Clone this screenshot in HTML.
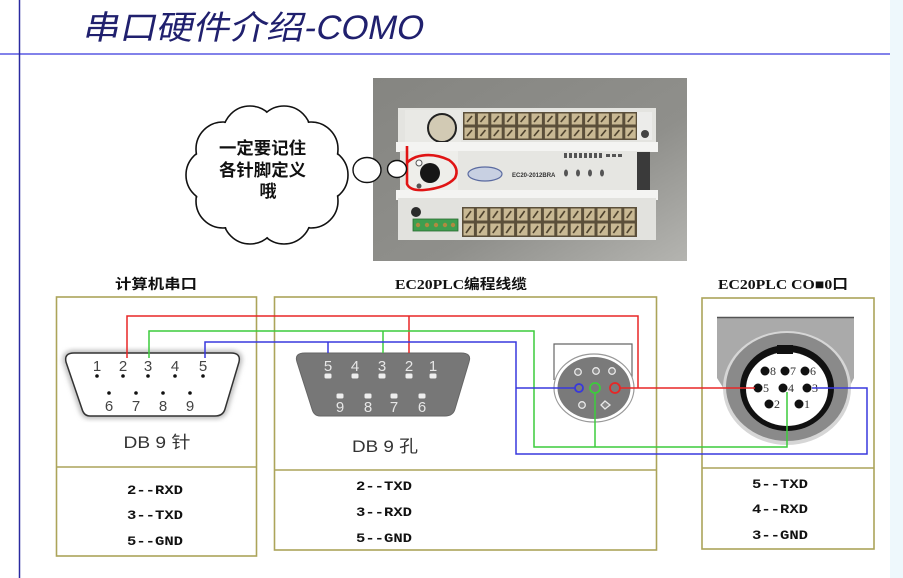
<!DOCTYPE html>
<html>
<head>
<meta charset="utf-8">
<style>
html,body{margin:0;padding:0;background:#fff;}
body{width:903px;height:578px;overflow:hidden;position:relative;}
svg{position:absolute;left:0;top:0;}
.cj{font-family:"Liberation Sans","Noto Sans CJK SC",sans-serif;}
.mono{font-family:"Liberation Mono","Noto Sans CJK SC",monospace;font-weight:bold;font-size:13px;fill:#111;}
</style>
</head>
<body>
<svg width="903" height="578" viewBox="0 0 903 578" xmlns="http://www.w3.org/2000/svg">
<defs>
  <linearGradient id="bg" x1="0" y1="0" x2="1" y2="1">
    <stop offset="0" stop-color="#858581"/>
    <stop offset="0.6" stop-color="#8f8f8b"/>
    <stop offset="1" stop-color="#b4b4b0"/>
  </linearGradient>
  <pattern id="term" x="463" y="112" width="13.4" height="14" patternUnits="userSpaceOnUse">
    <rect x="0" y="0" width="13.4" height="14" fill="#5b4f3a"/>
    <rect x="1.5" y="1.5" width="10.4" height="11" fill="#c9b994"/>
    <path d="M4,10 L9,4" stroke="#4a3e2a" stroke-width="1.6"/>
  </pattern>
  <pattern id="term2" x="462" y="207" width="13.4" height="15" patternUnits="userSpaceOnUse">
    <rect x="0" y="0" width="13.4" height="15" fill="#5b4f3a"/>
    <rect x="1.5" y="1.5" width="10.4" height="12" fill="#c9b994"/>
    <path d="M4,11 L9,4" stroke="#4a3e2a" stroke-width="1.6"/>
  </pattern>
  <filter id="blur" x="-10%" y="-10%" width="120%" height="120%">
    <feGaussianBlur stdDeviation="2.5"/>
  </filter>
</defs>

<!-- page frame -->
<rect x="890" y="0" width="13" height="578" fill="#eef8fc"/>
<line x1="0" y1="54" x2="890" y2="54" stroke="#8282ea" stroke-width="2"/>
<line x1="19.5" y1="0" x2="19.5" y2="578" stroke="#2a2aa0" stroke-width="1.5"/>

<!-- title -->
<g transform="translate(82,39) skewX(-12)">
  <text x="0" y="0" class="cj" font-size="33" fill="#20206e" textLength="221" lengthAdjust="spacingAndGlyphs">串口硬件介绍</text>
  <text x="221" y="0" font-family="Liberation Sans, sans-serif" font-size="34" fill="#20206e" textLength="119" lengthAdjust="spacingAndGlyphs">-COMO</text>
</g>

<!-- photo -->
<rect x="373" y="78" width="314" height="183" fill="url(#bg)"/>
<!-- PLC body -->
<rect x="398" y="108" width="258" height="36" fill="#e4e4e0"/>
<rect x="463" y="112" width="174" height="28" fill="url(#term)"/>
<rect x="405" y="110" width="56" height="34" fill="#e9e9e5"/>
<circle cx="442" cy="128" r="14" fill="#d2cab4" stroke="#222" stroke-width="2"/>
<rect x="637" y="112" width="15" height="28" fill="#ececea"/>
<circle cx="645" cy="134" r="4" fill="#444"/>
<rect x="396" y="142" width="262" height="10" fill="#f4f4f2"/>
<rect x="400" y="151" width="250" height="41" fill="#e6e6e2"/>
<rect x="405" y="151" width="53" height="41" fill="#eeeeea"/>
<rect x="637" y="152" width="13" height="38" fill="#3a3a3a"/>
<circle cx="430" cy="173" r="10" fill="#161616"/>
<circle cx="419" cy="163" r="3" fill="#fafafa" stroke="#555" stroke-width="1"/>
<circle cx="419" cy="186" r="2.5" fill="#555"/>
<ellipse cx="485" cy="174" rx="17" ry="7" fill="#c8d0e2" stroke="#5a6aa0" stroke-width="1.2"/>
<text x="512" y="177" font-family="Liberation Sans, sans-serif" font-size="6" font-weight="bold" fill="#333">EC20-2012BRA</text>
<g fill="#555">
  <rect x="564" y="153" width="3" height="5"/><rect x="569" y="153" width="3" height="5"/>
  <rect x="574" y="153" width="3" height="5"/><rect x="579" y="153" width="3" height="5"/>
  <rect x="584" y="153" width="3" height="5"/><rect x="589" y="153" width="3" height="5"/>
  <rect x="594" y="153" width="3" height="5"/><rect x="599" y="153" width="3" height="5"/>
  <rect x="606" y="154" width="4" height="3"/><rect x="612" y="154" width="4" height="3"/>
  <rect x="618" y="154" width="4" height="3"/>
  <ellipse cx="566" cy="173" rx="2" ry="3.5"/><ellipse cx="578" cy="173" rx="2" ry="3.5"/>
  <ellipse cx="590" cy="173" rx="2" ry="3.5"/><ellipse cx="602" cy="173" rx="2" ry="3.5"/>
</g>
<rect x="396" y="190" width="262" height="10" fill="#f4f4f2"/>
<rect x="398" y="198" width="258" height="42" fill="#e2e2de"/>
<rect x="462" y="207" width="175" height="30" fill="url(#term2)"/>
<circle cx="416" cy="212" r="5" fill="#2a2a2a"/>
<rect x="413" y="219" width="45" height="12" fill="#3f9e4f" stroke="#2a6a30" stroke-width="0.8"/>
<g fill="#b08a40"><circle cx="418" cy="225" r="2.2"/><circle cx="427" cy="225" r="2.2"/><circle cx="436" cy="225" r="2.2"/><circle cx="445" cy="225" r="2.2"/><circle cx="453" cy="225" r="2.2"/></g>
<path d="M407,146 L407,184 Q410,191 424,190 Q446,188 455,178 Q460,168 449,160 Q432,152 416,157 Q409,160 407,163" fill="none" stroke="#e01414" stroke-width="2.6"/>

<!-- cloud -->
<g stroke="#111" stroke-width="1.6" fill="#fff">
  <circle cx="321" cy="175" r="27"/>
  <circle cx="311" cy="201" r="27"/>
  <circle cx="284" cy="217" r="27"/>
  <circle cx="250" cy="217" r="27"/>
  <circle cx="223" cy="201" r="27"/>
  <circle cx="213" cy="175" r="27"/>
  <circle cx="223" cy="149" r="27"/>
  <circle cx="250" cy="133" r="27"/>
  <circle cx="284" cy="133" r="27"/>
  <circle cx="311" cy="149" r="27"/>
</g>
<g fill="#fff">
  <circle cx="321" cy="175" r="26"/>
  <circle cx="311" cy="201" r="26"/>
  <circle cx="284" cy="217" r="26"/>
  <circle cx="250" cy="217" r="26"/>
  <circle cx="223" cy="201" r="26"/>
  <circle cx="213" cy="175" r="26"/>
  <circle cx="223" cy="149" r="26"/>
  <circle cx="250" cy="133" r="26"/>
  <circle cx="284" cy="133" r="26"/>
  <circle cx="311" cy="149" r="26"/>
  <ellipse cx="267" cy="175" rx="62" ry="52"/>
</g>
<g class="cj" font-size="17" font-weight="bold" fill="#111">
  <text x="219" y="154" textLength="87" lengthAdjust="spacingAndGlyphs">一定要记住</text>
  <text x="219" y="176" textLength="87" lengthAdjust="spacingAndGlyphs">各针脚定义</text>
  <text x="268" y="197" text-anchor="middle">哦</text>
</g>
<ellipse cx="367" cy="170" rx="14" ry="12.5" fill="#fff" stroke="#111" stroke-width="1.4"/>
<ellipse cx="397" cy="169" rx="9.5" ry="8.5" fill="#fff" stroke="#111" stroke-width="1.4"/>

<!-- section titles -->
<g class="cj" font-weight="bold" font-size="14" fill="#111">
  <text x="115" y="289" textLength="82" lengthAdjust="spacingAndGlyphs">计算机串口</text>
  <text x="395" y="289" textLength="132" lengthAdjust="spacingAndGlyphs" font-family="Liberation Serif, Noto Sans CJK SC, serif">EC20PLC编程线缆</text>
  <text x="718" y="289" textLength="130" lengthAdjust="spacingAndGlyphs" font-family="Liberation Serif, Noto Sans CJK SC, serif">EC20PLC CO■0口</text>
</g>

<!-- boxes -->
<g fill="none" stroke="#aca45a" stroke-width="1.6">
  <rect x="56.5" y="297" width="200" height="259"/>
  <line x1="56.5" y1="467" x2="256.5" y2="467"/>
  <rect x="274.5" y="297" width="382" height="253"/>
  <line x1="274.5" y1="470" x2="656.5" y2="470"/>
  <rect x="702" y="298" width="172" height="251"/>
  <line x1="702" y1="468" x2="874" y2="468"/>
</g>

<!-- DB9 male (box1) -->
<path d="M74,353 L231,353 Q241,353 239,362 L225,409 Q223,416 215,416 L90,416 Q84,416 82,409 L66,362 Q64,353 74,353 Z" fill="none" stroke="#bbb" stroke-width="6" filter="url(#blur)"/>
<path d="M74,353 L231,353 Q241,353 239,362 L225,409 Q223,416 215,416 L90,416 Q84,416 82,409 L66,362 Q64,353 74,353 Z" fill="#fff" stroke="#333" stroke-width="1.5"/>
<g font-family="Liberation Sans, sans-serif" font-size="15" fill="#444" text-anchor="middle">
  <text x="97" y="371">1</text><text x="123" y="371">2</text><text x="148" y="371">3</text><text x="175" y="371">4</text><text x="203" y="371">5</text>
  <text x="109" y="411">6</text><text x="136" y="411">7</text><text x="163" y="411">8</text><text x="190" y="411">9</text>
</g>
<g fill="#111">
  <circle cx="97" cy="376" r="1.8"/><circle cx="123" cy="376" r="1.8"/><circle cx="148" cy="376" r="1.8"/><circle cx="175" cy="376" r="1.8"/><circle cx="203" cy="376" r="1.8"/>
  <circle cx="109" cy="393" r="1.8"/><circle cx="136" cy="393" r="1.8"/><circle cx="163" cy="393" r="1.8"/><circle cx="190" cy="393" r="1.8"/>
</g>
<text x="157" y="448" class="cj" font-size="17" fill="#333" text-anchor="middle" textLength="67" lengthAdjust="spacingAndGlyphs">DB 9 针</text>

<!-- DB9 female (box2) -->
<path d="M305,353 L461,353 Q472,353 469,362 L455,409 Q453,416 445,416 L320,416 Q314,416 312,409 L297,362 Q294,353 305,353 Z" fill="#777" stroke="#666" stroke-width="1"/>
<g font-family="Liberation Sans, sans-serif" font-size="15" fill="#e6e6e6" text-anchor="middle">
  <text x="328" y="371">5</text><text x="355" y="371">4</text><text x="382" y="371">3</text><text x="409" y="371">2</text><text x="433" y="371">1</text>
  <text x="340" y="412">9</text><text x="368" y="412">8</text><text x="394" y="412">7</text><text x="422" y="412">6</text>
</g>
<g fill="#eee">
  <rect x="324.5" y="373.5" width="7" height="5" rx="1.5"/><rect x="351.5" y="373.5" width="7" height="5" rx="1.5"/><rect x="378.5" y="373.5" width="7" height="5" rx="1.5"/><rect x="405.5" y="373.5" width="7" height="5" rx="1.5"/><rect x="429.5" y="373.5" width="7" height="5" rx="1.5"/>
  <rect x="336.5" y="393.5" width="7" height="5" rx="1.5"/><rect x="364.5" y="393.5" width="7" height="5" rx="1.5"/><rect x="390.5" y="393.5" width="7" height="5" rx="1.5"/><rect x="418.5" y="393.5" width="7" height="5" rx="1.5"/>
</g>
<text x="385" y="452" class="cj" font-size="17" fill="#333" text-anchor="middle" textLength="66" lengthAdjust="spacingAndGlyphs">DB 9 孔</text>

<!-- mini DIN in box2 -->
<path d="M554,380 V344 H632 V380" fill="none" stroke="#666" stroke-width="1.2"/>
<ellipse cx="594" cy="388" rx="40" ry="34" fill="#fff" stroke="#999" stroke-width="1.2"/>
<ellipse cx="594" cy="388" rx="36.5" ry="31" fill="#7a7a7a"/>
<g fill="#8a8a8a" stroke="#e8e8e8" stroke-width="1.3">
  <circle cx="578" cy="372" r="3.3"/><circle cx="596" cy="371" r="3.3"/><circle cx="612" cy="371" r="3.3"/>
  <circle cx="582" cy="405" r="3.3"/>
  <path d="M601,405 L605,401 L610,405 L605,409 Z"/>
</g>

<!-- box3 connector -->
<path d="M717,317 H854 V378 L840,405 L734,405 L717,378 Z" fill="#aaaaaa"/>
<line x1="717" y1="317.5" x2="854" y2="317.5" stroke="#555" stroke-width="1.5"/>
<ellipse cx="787" cy="388" rx="64" ry="57" fill="#d6d6d6"/>
<ellipse cx="787" cy="387" rx="61" ry="54" fill="#8a8a8a"/>
<ellipse cx="787" cy="388" rx="47" ry="43" fill="#111"/>
<ellipse cx="787" cy="389" rx="41" ry="37" fill="#fff"/>
<rect x="777" y="345" width="16" height="9" fill="#111"/>
<g fill="#111">
  <circle cx="765" cy="371" r="4.5"/><circle cx="785" cy="371" r="4.5"/><circle cx="805" cy="371" r="4.5"/>
  <circle cx="758" cy="388" r="4.5"/><circle cx="783" cy="388" r="4.5"/><circle cx="807" cy="388" r="4.5"/>
  <circle cx="769" cy="404" r="4.5"/><circle cx="799" cy="404" r="4.5"/>
</g>
<g font-family="Liberation Serif, serif" font-size="12" fill="#333">
  <text x="770" y="375">8</text><text x="790" y="375">7</text><text x="810" y="375">6</text>
  <text x="763" y="392">5</text><text x="788" y="392">4</text><text x="812" y="392">3</text>
  <text x="774" y="408">2</text><text x="804" y="408">1</text>
</g>

<!-- wires -->
<g fill="none" stroke-width="1.5">
  <path d="M127,358 V316 H638 V388" stroke="#e82626"/>
  <path d="M409,316 V353" stroke="#e82626"/>
  <path d="M620,388 H755" stroke="#e82626"/>
  <circle cx="615" cy="388" r="5" stroke="#e82626" stroke-width="1.8"/>

  <path d="M149,358 V331 H534 V447 H787 V392" stroke="#3ccc3c"/>
  <path d="M383,331 V353" stroke="#3ccc3c"/>
  <path d="M595,393 V447" stroke="#3ccc3c"/>
  <circle cx="595" cy="388" r="5" stroke="#3ccc3c" stroke-width="1.8"/>

  <path d="M205,358 V342 H516 V454 H867 V388 H812" stroke="#3838dd"/>
  <path d="M328,342 V353" stroke="#3838dd"/>
  <path d="M516,388 H575" stroke="#3838dd"/>
  <circle cx="579" cy="388" r="4" stroke="#3838dd" stroke-width="1.8"/>
</g>

<!-- bottom labels -->
<g class="mono">
  <text x="127" y="494" textLength="56" lengthAdjust="spacingAndGlyphs">2--RXD</text>
  <text x="127" y="519" textLength="56" lengthAdjust="spacingAndGlyphs">3--TXD</text>
  <text x="127" y="545" textLength="56" lengthAdjust="spacingAndGlyphs">5--GND</text>

  <text x="356" y="490" textLength="56" lengthAdjust="spacingAndGlyphs">2--TXD</text>
  <text x="356" y="516" textLength="56" lengthAdjust="spacingAndGlyphs">3--RXD</text>
  <text x="356" y="542" textLength="56" lengthAdjust="spacingAndGlyphs">5--GND</text>

  <text x="752" y="488" textLength="56" lengthAdjust="spacingAndGlyphs">5--TXD</text>
  <text x="752" y="513" textLength="56" lengthAdjust="spacingAndGlyphs">4--RXD</text>
  <text x="752" y="539" textLength="56" lengthAdjust="spacingAndGlyphs">3--GND</text>
</g>
</svg>
</body>
</html>
